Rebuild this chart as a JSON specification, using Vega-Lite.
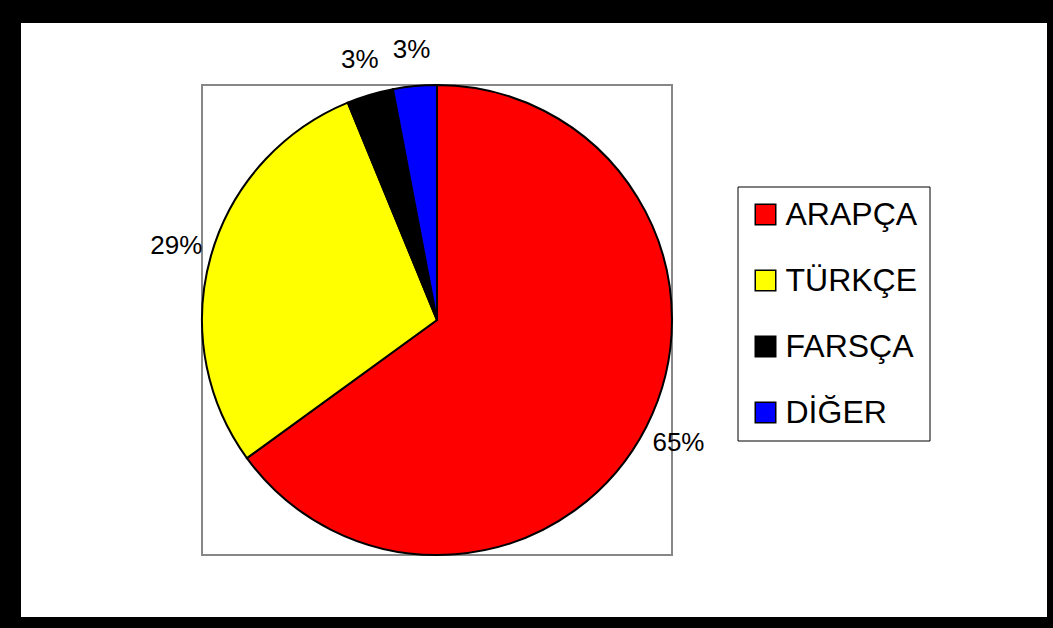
{
  "$schema": "https://vega.github.io/schema/vega-lite/v6.json",
  "width": 1053,
  "height": 628,
  "autosize": {"type": "fit", "contains": "padding"},
  "padding": {"left": 18.5, "top": 20.5, "right": 3.5, "bottom": 8.5},
  "background": "black",
  "view": {"stroke": "black", "strokeWidth": 5, "fill": "white", "fillOpacity": 1},
  "config": {
    "view": {"stroke": "black", "strokeWidth": 5, "fill": "white"},
    "font": "Liberation Sans"
  },
  "data": {
    "values": [
      {"language": "ARAPÇA", "share": 0.650, "rank": 1},
      {"language": "TÜRKÇE", "share": 0.288, "rank": 2},
      {"language": "FARSÇA", "share": 0.032, "rank": 3},
      {"language": "DİĞER", "share": 0.030, "rank": 4}
    ]
  },
  "layer": [
    {
      "transform": [{"aggregate": [{"op": "sum", "field": "share", "as": "total"}]}],
      "mark": {"type": "point", "shape": "square", "size": 220900, "filled": false, "stroke": "#878787", "strokeWidth": 2, "opacity": 1, "x": 418.5, "y": 299.5},
      "encoding": {}
    },
    {
      "mark": {"type": "arc", "radius": 235, "stroke": "black", "strokeWidth": 2, "x": 418.5, "y": 299.5},
      "encoding": {
        "theta": {"field": "share", "type": "quantitative", "stack": true},
        "order": {"field": "rank", "type": "quantitative"},
        "color": {
          "field": "language",
          "type": "nominal",
          "scale": {"domain": ["ARAPÇA", "TÜRKÇE", "FARSÇA", "DİĞER"], "range": ["#ff0000", "#ffff00", "#000000", "#0000ff"]},
          "legend": {
            "title": null,
            "orient": "none",
            "legendX": 719,
            "legendY": 166,
            "symbolType": "square",
            "symbolSize": 420,
            "symbolStrokeColor": "black",
            "symbolStrokeWidth": 1.5,
            "symbolOpacity": 1,
            "labelFont": "Liberation Sans",
            "labelFontSize": 32,
            "labelColor": "black",
            "labelOffset": 4,
            "labelLimit": 400,
            "rowPadding": 34,
            "padding": 12,
            "strokeColor": "black",
            "fillColor": "white"
          }
        }
      }
    },
    {
      "mark": {"type": "text", "radius": 271, "fontSize": 26, "font": "Liberation Sans", "color": "black", "align": "center", "baseline": "middle", "x": 418.5, "y": 299.5},
      "encoding": {
        "theta": {"field": "share", "type": "quantitative", "stack": true},
        "order": {"field": "rank", "type": "quantitative"},
        "text": {"field": "share", "type": "quantitative", "format": ".0%"}
      }
    }
  ]
}
